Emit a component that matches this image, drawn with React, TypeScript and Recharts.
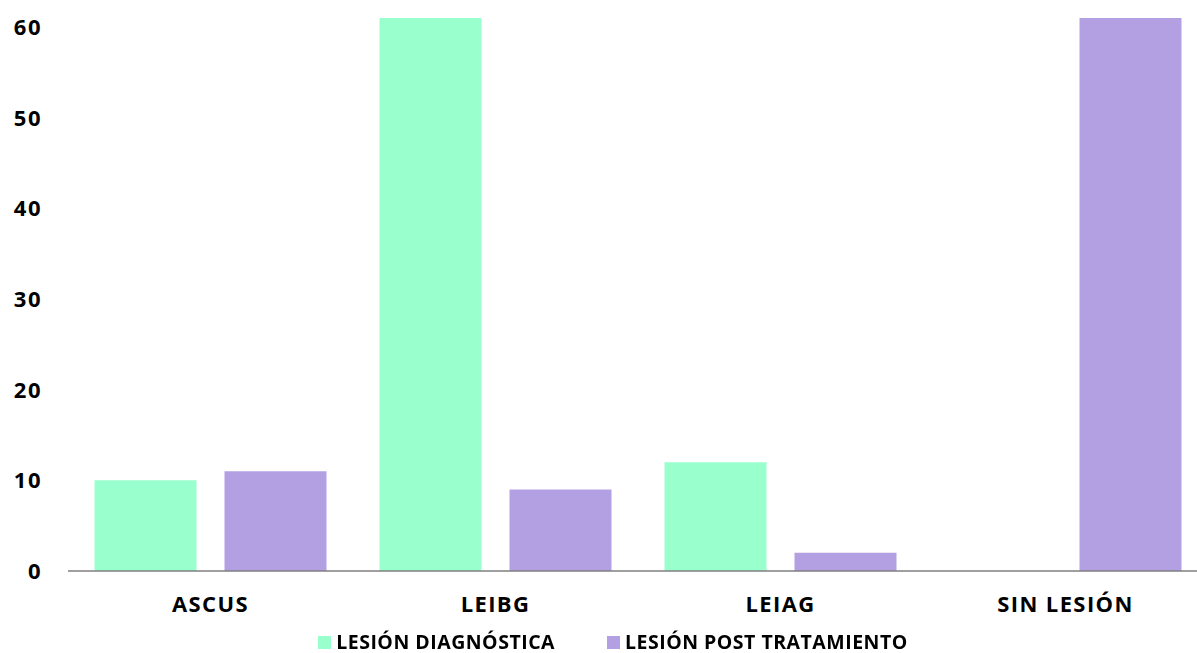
import { BarChart, Bar, XAxis, YAxis, Legend } from "recharts";

const categories = ["ASCUS", "LEIBG", "LEIAG", "SIN LESIÓN"];
const diagnostica = [10, 61, 12, 0];
const postTratamiento = [11, 9, 2, 61];
const yTicks = [0, 10, 20, 30, 40, 50, 60];

const data = categories.map((name, i) => ({
  name,
  diagnostica: diagnostica[i],
  post: postTratamiento[i],
}));

const green = "#99FFCC";
const purple = "#B3A0E2";
const font = "'Open Sans', Lato, sans-serif";

const legendItems = [
  { label: "LESIÓN DIAGNÓSTICA", color: green },
  { label: "LESIÓN POST TRATAMIENTO", color: purple },
];

function ChartLegend() {
  return (
    <div
      style={{
        display: "flex",
        justifyContent: "center",
        gap: 52,
        fontFamily: font,
        fontWeight: 700,
        fontSize: 19.5,
        lineHeight: "22px",
        letterSpacing: 0.5,
        color: "#000",
        marginLeft: 18,
      }}
    >
      {legendItems.map((it) => (
        <div key={it.label} style={{ display: "flex", alignItems: "center" }}>
          <span
            style={{
              display: "inline-block",
              width: 13,
              height: 13,
              background: it.color,
              marginRight: 5,
            }}
          />
          {it.label}
        </div>
      ))}
    </div>
  );
}

export default function App() {
  return (
    <div style={{ position: "fixed", left: 0, top: 0, width: 1197, height: 653, background: "#fff" }}>
      <BarChart
        width={1197}
        height={653}
        data={data}
        margin={{ top: 9, right: -11, left: 0, bottom: 0 }}
        barCategoryGap="9.3%"
        barGap={28}
      >
        <XAxis
          dataKey="name"
          axisLine={{ stroke: "#7f7f7f", strokeWidth: 1.5 }}
          tickLine={false}
          tickMargin={19}
          height={52}
          tick={{ fill: "#000", fontSize: 22, fontWeight: 700, fontFamily: font, letterSpacing: 1.4 }}
        />
        <YAxis
          domain={[0, 62]}
          ticks={yTicks}
          width={68}
          axisLine={false}
          tickLine={false}
          tickSize={0}
          tickMargin={26}
          tick={{ fill: "#000", fontSize: 22, fontWeight: 700, fontFamily: font, letterSpacing: 1.5 }}
        />
        <Legend
          verticalAlign="bottom"
          height={30}
          wrapperStyle={{ bottom: -8 }}
          content={() => <ChartLegend />}
        />
        <Bar dataKey="diagnostica" name="LESIÓN DIAGNÓSTICA" fill={green} isAnimationActive={false} />
        <Bar dataKey="post" name="LESIÓN POST TRATAMIENTO" fill={purple} isAnimationActive={false} />
      </BarChart>
    </div>
  );
}
